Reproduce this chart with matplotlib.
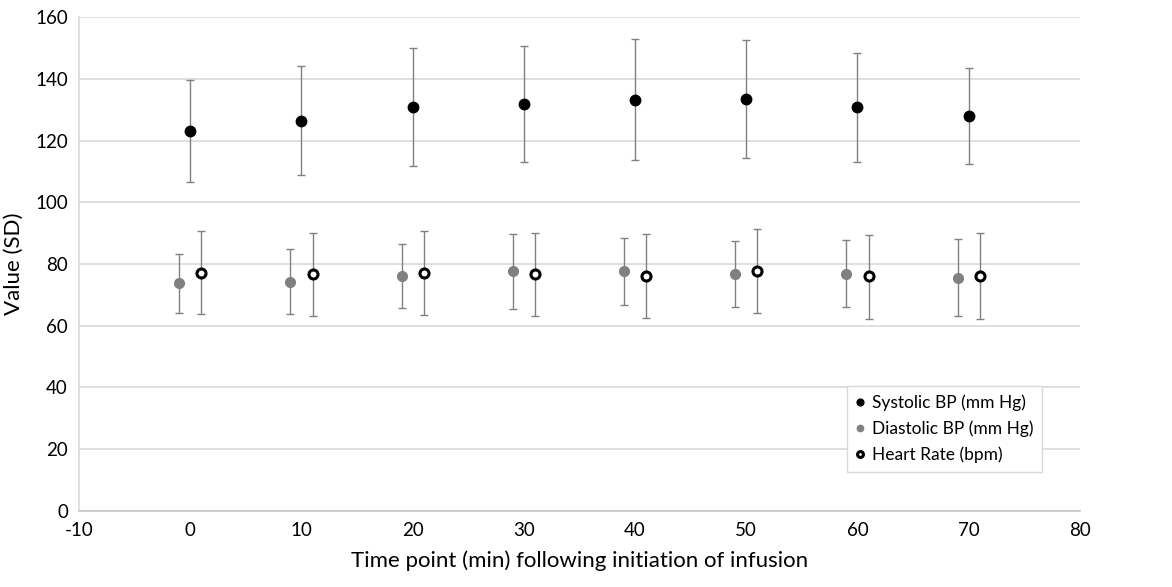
import matplotlib
matplotlib.use("Agg")
import matplotlib.pyplot as plt

plt.rcParams['font.family'] = ['Lato', 'DejaVu Sans']
plt.rcParams['axes.unicode_minus'] = False

time_points = [0, 10, 20, 30, 40, 50, 60, 70]

systolic_mean = [123.2, 126.4, 130.9, 131.8, 133.1, 133.3, 130.9, 127.8]
systolic_upper = [139.7, 144.2, 150.0, 150.7, 152.8, 152.4, 148.4, 143.4]
systolic_lower = [106.6, 108.8, 111.8, 113.0, 113.7, 114.4, 113.1, 112.3]

diastolic_mean = [73.7, 74.2, 76.2, 77.7, 77.6, 76.7, 76.9, 75.6]
diastolic_upper = [83.3, 84.7, 86.6, 89.7, 88.4, 87.3, 87.7, 88.1]
diastolic_lower = [64.2, 63.9, 65.7, 65.5, 66.8, 66.1, 66.2, 63.2]

hr_mean = [77.2, 76.6, 77.0, 76.7, 76.2, 77.7, 76.0, 76.2]
hr_upper = [90.6, 90.1, 90.7, 90.1, 89.6, 91.2, 89.5, 89.9]
hr_lower = [63.9, 63.0, 63.5, 63.0, 62.6, 64.2, 62.3, 62.3]


def errs(mean, lower, upper):
    return [[m - l for m, l in zip(mean, lower)], [u - m for m, u in zip(mean, upper)]]


fig = plt.figure(figsize=(11.72, 5.87), dpi=100)
ax = fig.add_axes([0.0674, 0.1295, 0.854, 0.8415])

ebar = dict(fmt='none', ecolor='#808080', elinewidth=1.0, capsize=3, capthick=1.0)

x_dia = [t - 1 for t in time_points]
x_hr = [t + 1 for t in time_points]

ax.errorbar(time_points, systolic_mean, yerr=errs(systolic_mean, systolic_lower, systolic_upper), **ebar)
ax.errorbar(x_dia, diastolic_mean, yerr=errs(diastolic_mean, diastolic_lower, diastolic_upper), **ebar)
ax.errorbar(x_hr, hr_mean, yerr=errs(hr_mean, hr_lower, hr_upper), **ebar)

ax.plot(time_points, systolic_mean, 'o', color='black', markersize=7.5, label='Systolic BP (mm Hg)')
ax.plot(x_dia, diastolic_mean, 'o', color='#808080', markersize=7, label='Diastolic BP (mm Hg)')
ax.plot(x_hr, hr_mean, 'o', color='black', markerfacecolor='white', markeredgewidth=2.2,
        markersize=6.5, label='Heart Rate (bpm)')

ax.set_xlim(-10, 80)
ax.set_ylim(0, 160)
ax.set_xticks(range(-10, 81, 10))
ax.set_yticks(range(0, 161, 20))
ax.grid(axis='y', color='#d9d9d9', linewidth=1.2)
ax.set_axisbelow(True)
for s in ['top', 'right']:
    ax.spines[s].set_visible(False)
ax.spines['left'].set_color('#d9d9d9')
ax.spines['bottom'].set_color('#c8c8c8')
ax.spines['left'].set_linewidth(1.2)
ax.spines['bottom'].set_linewidth(1.2)
ax.tick_params(length=0, labelsize=13.5, pad=8, colors='black')

ax.set_xlabel('Time point (min) following initiation of infusion', fontsize=16, labelpad=8)
ax.set_ylabel('Value (SD)', fontsize=16, labelpad=8)

leg = ax.legend(loc='upper left', bbox_to_anchor=(0.759, 0.271),
                fontsize=12.5, frameon=True, fancybox=False, edgecolor='#d9d9d9',
                markerscale=0.65, handlelength=0.5, handletextpad=0.4,
                labelspacing=0.55, borderpad=0.5, framealpha=1)
leg.get_frame().set_linewidth(1.0)

fig.savefig('out.png', dpi=100)
